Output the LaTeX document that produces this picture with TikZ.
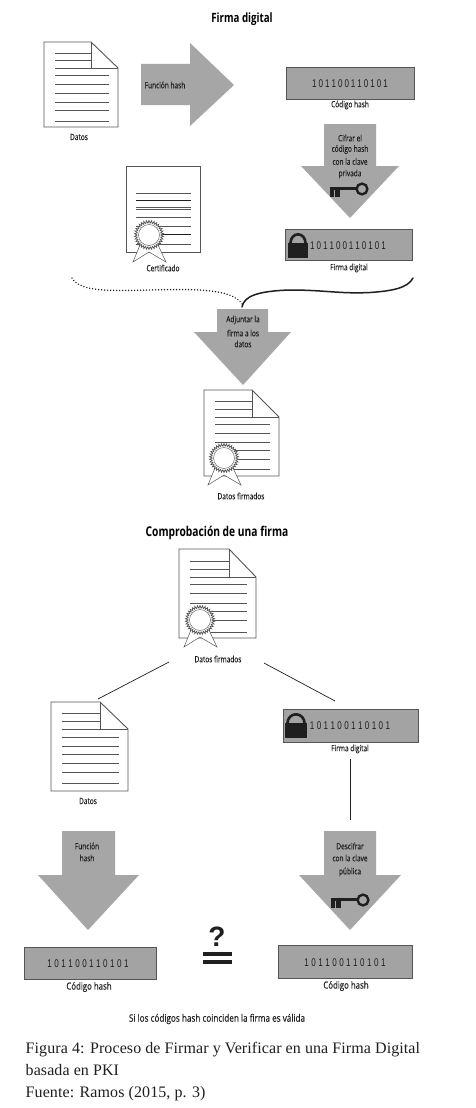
\documentclass[tikz,border=0pt]{standalone}
\usepackage{fontspec}
\usetikzlibrary{shapes.geometric}
\setmainfont[LetterSpace=0.6]{Liberation Serif}
\newfontfamily\labfont[FakeStretch=0.76,FakeBold=0.15]{Open Sans}
\newfontfamily\biglabfont[FakeStretch=0.8,FakeBold=0.15]{Open Sans}
\newfontfamily\headfont[FakeStretch=0.76]{Open Sans}
\newfontfamily\bitfont[FakeStretch=0.72]{Liberation Sans}
\newfontfamily\markfont{Liberation Sans}
\definecolor{arrowgray}{HTML}{A6A6A6}
\definecolor{boxgray}{HTML}{A3A3A3}
\definecolor{inkdark}{HTML}{1F1F1F}
\definecolor{linegray}{HTML}{555555}
\tikzset{
  lab/.style={font=\labfont\fontsize{8.6}{10}\selectfont,text=inkdark,inner sep=0pt,align=center},
  biglab/.style={font=\biglabfont\fontsize{9.8}{11}\selectfont,text=inkdark,inner sep=0pt,align=center},
  headline/.style={font=\headfont\bfseries\fontsize{12.8}{15}\selectfont,text=black,inner sep=0pt},
  bits/.style={font=\bitfont\fontsize{11.2}{12}\selectfont,text=inkdark,inner sep=0pt},
  codebox/.style={draw=linegray,line width=0.8pt,fill=boxgray,rectangle,inner sep=0pt},
  bigarrow/.style={fill=arrowgray,draw=none},
  page/.style={draw=linegray,line width=0.9pt,fill=white,line join=miter},
  rule/.style={draw=linegray,line width=0.7pt},
  seal/.style={star,star points=34,star point ratio=1.22,draw=linegray,fill=white,line width=0.7pt,minimum size=29pt,inner sep=0pt},
  sealin/.style={circle,draw=linegray,fill=white,line width=0.4pt,minimum size=21pt,inner sep=0pt},
  link/.style={draw=inkdark,line width=0.7pt},
  caption/.style={font=\fontsize{16}{18}\selectfont,text=inkdark,inner sep=0pt,anchor=base west},
}
\newcommand{\bitstr}[1]{1\kern#1 0\kern#1 1\kern#1 1\kern#1 0\kern#1 0\kern#1 1\kern#1 1\kern#1 0\kern#1 1\kern#1 0\kern#1 1}
% folded page: left top right bottom foldx foldy
\newcommand{\foldpage}[6]{%
  \draw[page] (#1,#2) -- (#5,#2) -- (#3,#6) -- (#3,#4) -- (#1,#4) -- cycle;
  \draw[rule] (#5,#2) -- (#5,#6) -- (#3,#6);
}
% seal and ribbon: centre x, centre y, name
\newcommand{\sealmark}[3]{%
  \draw[rule,fill=white,line width=0.5pt] (#1-9,#2+10) -- (#1-16,#2+27) -- (#1,#2+17) -- (#1+17,#2+27) -- (#1+9,#2+10);
  \node[seal] (#3) at (#1,#2) {};
  \node[sealin] (#3in) at (#1,#2) {};
}
% key: bow x, bow y
\newcommand{\keymark}[2]{%
  \draw[inkdark,line width=2.4pt] (#1,#2) circle (5.4);
  \fill[inkdark] (#1-32,#2-2) rectangle (#1-5,#2+1);
  \fill[inkdark] (#1-32,#2-2) rectangle (#1-28,#2+8);
  \fill[inkdark] (#1-27,#2-2) rectangle (#1-22,#2+8);
}
% lock: left top-of-shackle right bottom
\newcommand{\lockmark}[4]{%
  \draw[inkdark,line width=2.6pt] (#1+2.5,#4-12) -- (#1+2.5,#2+10) arc[start angle=180,end angle=0,x radius={(#3-#1-5)/2},y radius=-8.7] -- (#3-2.5,#4-12);
  \fill[inkdark] (#1,#4-15) rectangle (#3,#4);
}
\begin{document}
\begin{tikzpicture}[x=1pt,y=-1pt]
\useasboundingbox[fill=white] (0,0) rectangle (475,1108);

%% ---------- Firma digital
\node[headline] (t1) at (242,19) {Firma digital};

% Datos page
\foldpage{44}{42}{118}{127}{91}{68}
\foreach \y in {53,60.5,68} \draw[rule] (55,\y) -- (91,\y);
\foreach \y in {75,84,93,102,110,121} \draw[rule] (55,\y) -- (109,\y);
\node[lab] (datos1) at (79,137) {Datos};

% right arrow
\fill[bigarrow] (141,64) -- (190,64) -- (190,43) -- (234,85) -- (190,126) -- (190,105) -- (141,105) -- cycle;
\node[lab] (fh1) at (165,85) {Función hash};

% code box
\node[codebox,minimum width=128pt,minimum height=32pt] (code1) at (350,83) {};
\node[bits] (code1t) at (350,83.5) {\bitstr{2pt}};
\node[lab] (code1l) at (350,105) {Código hash};

% encrypt arrow
\fill[bigarrow] (324,124) -- (376,124) -- (376,166) -- (399,166) -- (350,218) -- (301,166) -- (324,166) -- cycle;
\node[lab] (enc1) at (350,138) {Cifrar el};
\node[lab] (enc2) at (350,149.5) {código hash};
\node[lab] (enc3) at (350,161.5) {con la clave};
\node[lab] (enc4) at (350,174) {privada};
\keymark{362}{189}

% signature box
\node[codebox,minimum width=127pt,minimum height=31pt] (sig1) at (348.5,244.5) {};
\lockmark{288}{233}{308}{258}
\node[bits] (sig1t) at (348,246) {\bitstr{2pt}};
\node[lab] (sig1l) at (349,268) {Firma digital};

% certificate
\draw[page] (126,252) -- (126,166) -- (200,166) -- (200,252) -- cycle;
\foreach \y in {193,207,209,217,226,244} \draw[rule] (136,\y) -- (191,\y);
\foreach \y in {200,234} \draw[rule,draw=inkdark,line width=0.9pt] (136,\y) -- (191,\y);
\sealmark{149}{235}{sealA}
\node[lab] (cert) at (163,268) {Certificado};

% merging curves
\coordinate (dotA) at (72,278);
\coordinate (joinD) at (242,304);
\coordinate (solA) at (413,278);
\coordinate (joinS) at (242,307);
\draw[inkdark,line width=1.5pt,line cap=round,dash pattern=on 0.1pt off 2.9pt]
  (dotA) .. controls (80,292) and (110,291) .. (150,290) .. controls (190,289) and (232,288) .. (joinD);
\draw[inkdark,line width=1.5pt,line cap=round]
  (joinS) .. controls (244,296) and (258,291) .. (290,290) .. controls (325,290) and (340,294) .. (370,292.5) .. controls (392,291) and (408,288) .. (solA);

% attach arrow
\fill[bigarrow] (217,309) -- (268,309) -- (268,332) -- (291,332) -- (243,385) -- (194,332) -- (217,332) -- cycle;
\node[lab] (att1) at (243,320) {Adjuntar la};
\node[lab] (att2) at (243,333) {firma a los};
\node[lab] (att3) at (243,344) {datos};

% signed page 1
\foldpage{204}{390}{279}{476}{252}{417}
\foreach \y in {401,409,417} \draw[rule] (215,\y) -- (252,\y);
\foreach \y in {424,433,442,450,459,469} \draw[rule] (215,\y) -- (270,\y);
\sealmark{224}{458}{sealB}
\node[lab] (df1) at (241,496) {Datos firmados};

%% ---------- Comprobación
\node[headline,font=\headfont\bfseries\fontsize{13.5}{15}\selectfont] (t2) at (217,533) {Comprobación de una firma};

% signed page 2
\foldpage{179}{549}{256}{638}{229}{577}
\foreach \y in {561,569,577} \draw[rule] (190,\y) -- (229,\y);
\foreach \y in {584,593,603,611,620,632} \draw[rule] (190,\y) -- (247,\y);
\sealmark{200}{620}{sealC}
\node[lab] (df2) at (218,659) {Datos firmados};

% links
\coordinate (l1a) at (169,662);
\coordinate (l1b) at (98,699);
\coordinate (l2a) at (264,663);
\coordinate (l2b) at (335,701);
\draw[link] (l1a) -- (l1b);
\draw[link] (l2a) -- (l2b);

% Datos page 2
\foldpage{51}{702}{128}{791}{100}{729}
\foreach \y in {713,721,729} \draw[rule] (62,\y) -- (100,\y);
\foreach \y in {737,746,754,763,772,783} \draw[rule] (62,\y) -- (119,\y);
\node[lab] (datos2) at (88,801) {Datos};

% signature box 2
\node[codebox,minimum width=135pt,minimum height=33pt] (sig2) at (350.5,725.5) {};
\lockmark{285}{713}{307}{737.5}
\node[bits] (sig2t) at (350,726) {\bitstr{2.4pt}};
\node[lab] (sig2l) at (350,749) {Firma digital};
\coordinate (vtop) at (350,759);
\coordinate (vbot) at (350,820);
\draw[link] (vtop) -- (vbot);

% hash arrow
\fill[bigarrow] (62,831) -- (115,831) -- (115,875) -- (139,875) -- (88,930) -- (38,875) -- (62,875) -- cycle;
\node[lab] (fh2a) at (87,846) {Función};
\node[lab] (fh2b) at (87,858) {hash};

% decrypt arrow
\fill[bigarrow] (324,831) -- (376,831) -- (376,875) -- (401,875) -- (350,930) -- (299,875) -- (324,875) -- cycle;
\node[lab] (dec1) at (350,846) {Descifrar};
\node[lab] (dec2) at (350,858) {con la clave};
\node[lab] (dec3) at (350,872) {pública};
\keymark{363}{900}

% bottom boxes
\node[codebox,minimum width=132pt,minimum height=32pt] (code2) at (90,963) {};
\node[bits] (code2t) at (88,964) {\bitstr{2.5pt}};
\node[biglab] (code2l) at (89,987) {Código hash};
\node[codebox,minimum width=134pt,minimum height=33pt] (code3) at (345,961.5) {};
\node[bits] (code3t) at (345,963) {\bitstr{2.5pt}};
\node[biglab] (code3l) at (346,986) {Código hash};

% ? =
\node[font=\markfont\bfseries\fontsize{28}{30}\selectfont,text=inkdark,inner sep=0pt] (q) at (217,937) {?};
\fill[inkdark] (203,952) rectangle (232,956);
\fill[inkdark] (203,960) rectangle (232,964);

\node[biglab,font=\biglabfont\fontsize{10.2}{12}\selectfont] (valid) at (217,1019) {Si los códigos hash coinciden la firma es válida};

\node[caption] (c1) at (25.5,1053.5) {Figura 4: Proceso de Firmar y Verificar en una Firma Digital};
\node[caption] (c2) at (25.5,1075.5) {basada en PKI};
\node[caption] (c3) at (25.5,1097) {Fuente: Ramos (2015, p. 3)};
\end{tikzpicture}
\end{document}
